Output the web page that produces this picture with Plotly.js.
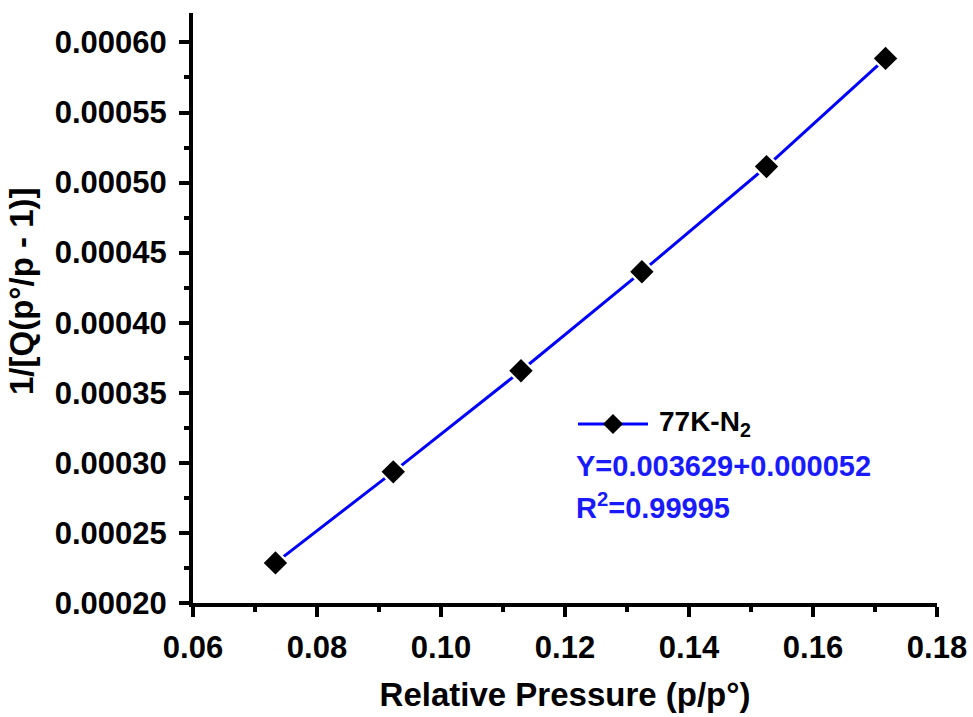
<!DOCTYPE html>
<html>
<head>
<meta charset="utf-8">
<script src="https://cdn.plot.ly/plotly-3.0.1.min.js"></script>
<style>
  html, body { margin: 0; padding: 0; background: #fff; }
  #chart { width: 973px; height: 717px; }
</style>
</head>
<body>
<div id="chart"></div>
<script>
// Data
const relativePressure = [0.0733, 0.0923, 0.1129, 0.1324, 0.1525, 0.1717];
const betValue = [0.0002286, 0.0002936, 0.0003657, 0.0004364, 0.0005114, 0.0005886];
const seriesName = "77K-N<sub>2</sub>";
const fitText = "Y=0.003629+0.000052";
const r2Text = "R<sup>2</sup>=0.99995";
const xTitle = "Relative Pressure (p/p°)";
const yTitle = "1/[Q(p°/p - 1)]";
const xTicks = [0.06, 0.08, 0.10, 0.12, 0.14, 0.16, 0.18];
const xTickText = ["0.06", "0.08", "0.10", "0.12", "0.14", "0.16", "0.18"];
const yTicks = [0.00020, 0.00025, 0.00030, 0.00035, 0.00040, 0.00045, 0.00050, 0.00055, 0.00060];
const yTickText = ["0.00020", "0.00025", "0.00030", "0.00035", "0.00040", "0.00045", "0.00050", "0.00055", "0.00060"];

const FONT = "Liberation Sans, Arial, sans-serif";
const BLUE = "#1a1aff";

const traces = [
  {
    x: relativePressure, y: betValue, type: "scatter", mode: "lines+markers",
    line: { color: "#0000ff", width: 3 },
    marker: { symbol: "diamond", size: 23, color: "#ffffff" },
    showlegend: false, hoverinfo: "skip"
  },
  {
    x: relativePressure, y: betValue, type: "scatter", mode: "markers",
    marker: { symbol: "diamond", size: 18, color: "#000000" },
    showlegend: false
  }
];

const axisCommon = {
  showgrid: false, zeroline: false, showline: true, linecolor: "#000", linewidth: 4,
  ticks: "outside", ticklen: 10, tickwidth: 4, tickcolor: "#000",
  tickfont: { family: FONT, size: 31, color: "#000", weight: "bold" },
  mirror: false
};

const layout = {
  width: 973, height: 717,
  margin: { l: 193, r: 36, t: 13, b: 114, pad: 0 },
  paper_bgcolor: "#fff", plot_bgcolor: "#fff",
  showlegend: false,
  xaxis: Object.assign({}, axisCommon, {
    range: [0.06, 0.18], tickmode: "array", tickvals: xTicks, ticktext: xTickText,
    minor: { dtick: 0.01, ticklen: 5, tickwidth: 4, tickcolor: "#000", ticks: "outside", tick0: 0.06 },
    ticklabelstandoff: 4,
    title: { text: xTitle, font: { family: FONT, size: 33, color: "#000", weight: "bold" }, standoff: 20 }
  }),
  yaxis: Object.assign({}, axisCommon, {
    range: [0.0002, 0.000621], tickmode: "array", tickvals: yTicks, ticktext: yTickText,
    minor: { dtick: 0.000025, ticklen: 5, tickwidth: 4, tickcolor: "#000", ticks: "outside", tick0: 0.0002 },
    ticklabelstandoff: 6
  }),
  shapes: [
    { type: "line", xref: "paper", yref: "paper", x0: 0.5175, x1: 0.6116, y0: 0.3034, y1: 0.3034,
      line: { color: "#0000ff", width: 3 } },
    { type: "path", xref: "paper", yref: "paper", xsizemode: "pixel", ysizemode: "pixel",
      xanchor: 0.5645, yanchor: 0.3034, path: "M-10,0 L0,10 L10,0 L0,-10 Z",
      fillcolor: "#000", line: { color: "#000", width: 0 } }
  ],
  annotations: [
    { xref: "paper", yref: "paper", x: (21 - 193) / 744, y: (603 - 291) / 590, xanchor: "center", yanchor: "middle",
      textangle: -90, text: yTitle, showarrow: false,
      font: { family: FONT, size: 33, color: "#000", weight: "bold" } },
    { xref: "paper", yref: "paper", x: 0.6237, y: 0.3034, xanchor: "left", yanchor: "middle",
      text: seriesName, showarrow: false, font: { family: FONT, size: 28, color: "#000", weight: "bold" } },
    { xref: "paper", yref: "paper", x: 0.5125, y: (603 - 466) / 590, xanchor: "left", yanchor: "middle",
      text: fitText, showarrow: false, font: { family: FONT, size: 29, color: BLUE, weight: "bold" } },
    { xref: "paper", yref: "paper", x: 0.5125, y: (603 - 506) / 590, xanchor: "left", yanchor: "middle",
      text: r2Text, showarrow: false, font: { family: FONT, size: 29, color: BLUE, weight: "bold" } }
  ]
};

Plotly.newPlot("chart", traces, layout, { displayModeBar: false, staticPlot: true });
</script>
</body>
</html>
